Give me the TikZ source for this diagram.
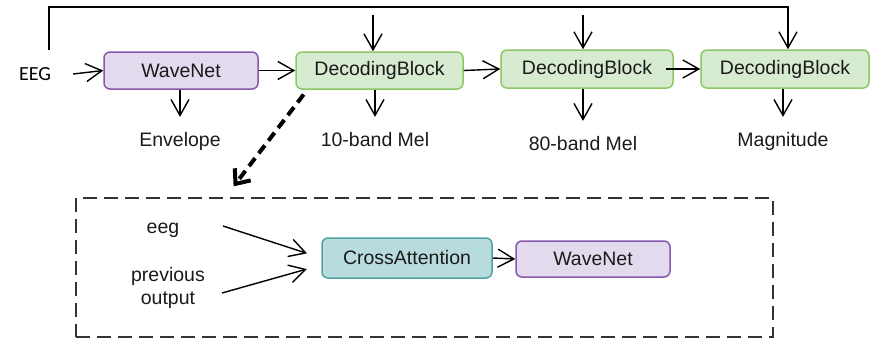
\documentclass[tikz,border=0pt]{standalone}
\usepackage{fontspec}
\setmainfont{Liberation Sans}
\newfontfamily\calfont{Carlito}
\usetikzlibrary{arrows.meta,calc}
\definecolor{wnfill}{HTML}{E4DAEE}
\definecolor{wnline}{HTML}{8657AE}
\definecolor{dbfill}{HTML}{D7EBD1}
\definecolor{dbline}{HTML}{8CC866}
\definecolor{cafill}{HTML}{B8DCDE}
\definecolor{caline}{HTML}{52A0A3}
\definecolor{txt}{HTML}{1A1A1A}
\tikzset{
  every node/.style={font=\fontsize{19.5}{23}\selectfont, text=txt},
  box/.style={draw, line width=1.5pt, rounded corners=6pt, inner sep=0pt, align=center},
  wnbox/.style={box, fill=wnfill, draw=wnline},
  dbbox/.style={box, fill=dbfill, draw=dbline},
  cabox/.style={box, fill=cafill, draw=caline},
  lbl/.style={inner sep=0pt, outer ysep=15pt, anchor=base},
  arr/.style={line width=1.4pt, -{Straight Barb[length=16pt,width=18pt,line width=1.4pt]}},
  dasharr/.style={line width=4pt, dash pattern=on 10pt off 6pt, -{Straight Barb[length=12pt,width=20pt,line width=4pt]}},
}
\begin{document}
\begin{tikzpicture}[x=1pt,y=-1pt]
\useasboundingbox (0,0) rectangle (871,341);
% top row
\node[font=\calfont\fontsize{20}{22}\selectfont, text=black, inner sep=2pt] (eeg) at (35,74) {EEG};
\node[wnbox, minimum width=154pt, minimum height=37pt] (wn1) at (181,70.5) {WaveNet};
\node[dbbox, minimum width=167pt, minimum height=37pt] (db1) at (379.5,70.5) {DecodingBlock};
\node[dbbox, minimum width=172pt, minimum height=38pt] (db2) at (587,69) {DecodingBlock};
\node[dbbox, minimum width=168pt, minimum height=38pt] (db3) at (785,69) {DecodingBlock};
% output labels
\node[lbl] (env) at (180,146) {Envelope};
\node[lbl] (m10) at (375,146) {10-band Mel};
\node[lbl] (m80) at (583,150) {80-band Mel};
\node[lbl] (mag) at (783,146) {Magnitude};
% main chain
\draw[arr] ([xshift=20pt]eeg.east) -- (wn1.west);
\draw[arr] (wn1.east) -- (db1.west);
\draw[arr] (db1.east) -- (db2.west);
\draw[arr] ([xshift=-8pt]db2.east) -- (db3.west);
% outputs
\draw[arr] (wn1.south -| env) -- (env.north);
\draw[arr] (db1.south -| m10) -- (m10.north);
\draw[arr] (db2.south -| m80) -- (m80.north);
\draw[arr] (db3.south -| mag) -- (mag.north);
% inputs from above
\coordinate (in1) at (373,15);
\coordinate (in2) at (583,15);
\draw[arr] (in1) -- (in1 |- db1.north);
\draw[arr] (in2) -- (in2 |- db2.north);
% feedback line
\coordinate (fb) at (49,50);
\coordinate (fbend) at (788,7);
\draw[arr] (fb) -- (fb |- fbend) -- (fbend) -- (fbend |- db3.north);
% detail box
\node[draw=black!80, line width=2.6pt, dash pattern=on 14pt off 7pt, minimum width=697pt, minimum height=139pt, inner sep=0pt] (detail) at (424.5,267.5) {};
\draw[dasharr, shorten <=6pt, shorten >=13pt] ([xshift=12pt]db1.south west) -- ([xshift=151pt]detail.north west);
% inner contents
\node[inner sep=0pt, anchor=base] (eegt) at (163,233) {eeg};
\node[inner sep=0pt, align=center, anchor=base] (prev) at (168,304) {previous\\output};
\node[cabox, minimum width=170pt, minimum height=40pt] (ca) at (407,258) {CrossAttention};
\node[wnbox, minimum width=154pt, minimum height=36pt] (wn2) at (593,259) {WaveNet};
\coordinate (e1) at (223,226);
\coordinate (p1) at (222,293);
\draw[arr, shorten >=15pt] (e1) -- (ca.west);
\draw[arr, shorten >=15pt] (p1) -- ([yshift=-7pt]ca.west);
\draw[arr] (ca.east) -- (wn2.west);
\end{tikzpicture}
\end{document}
